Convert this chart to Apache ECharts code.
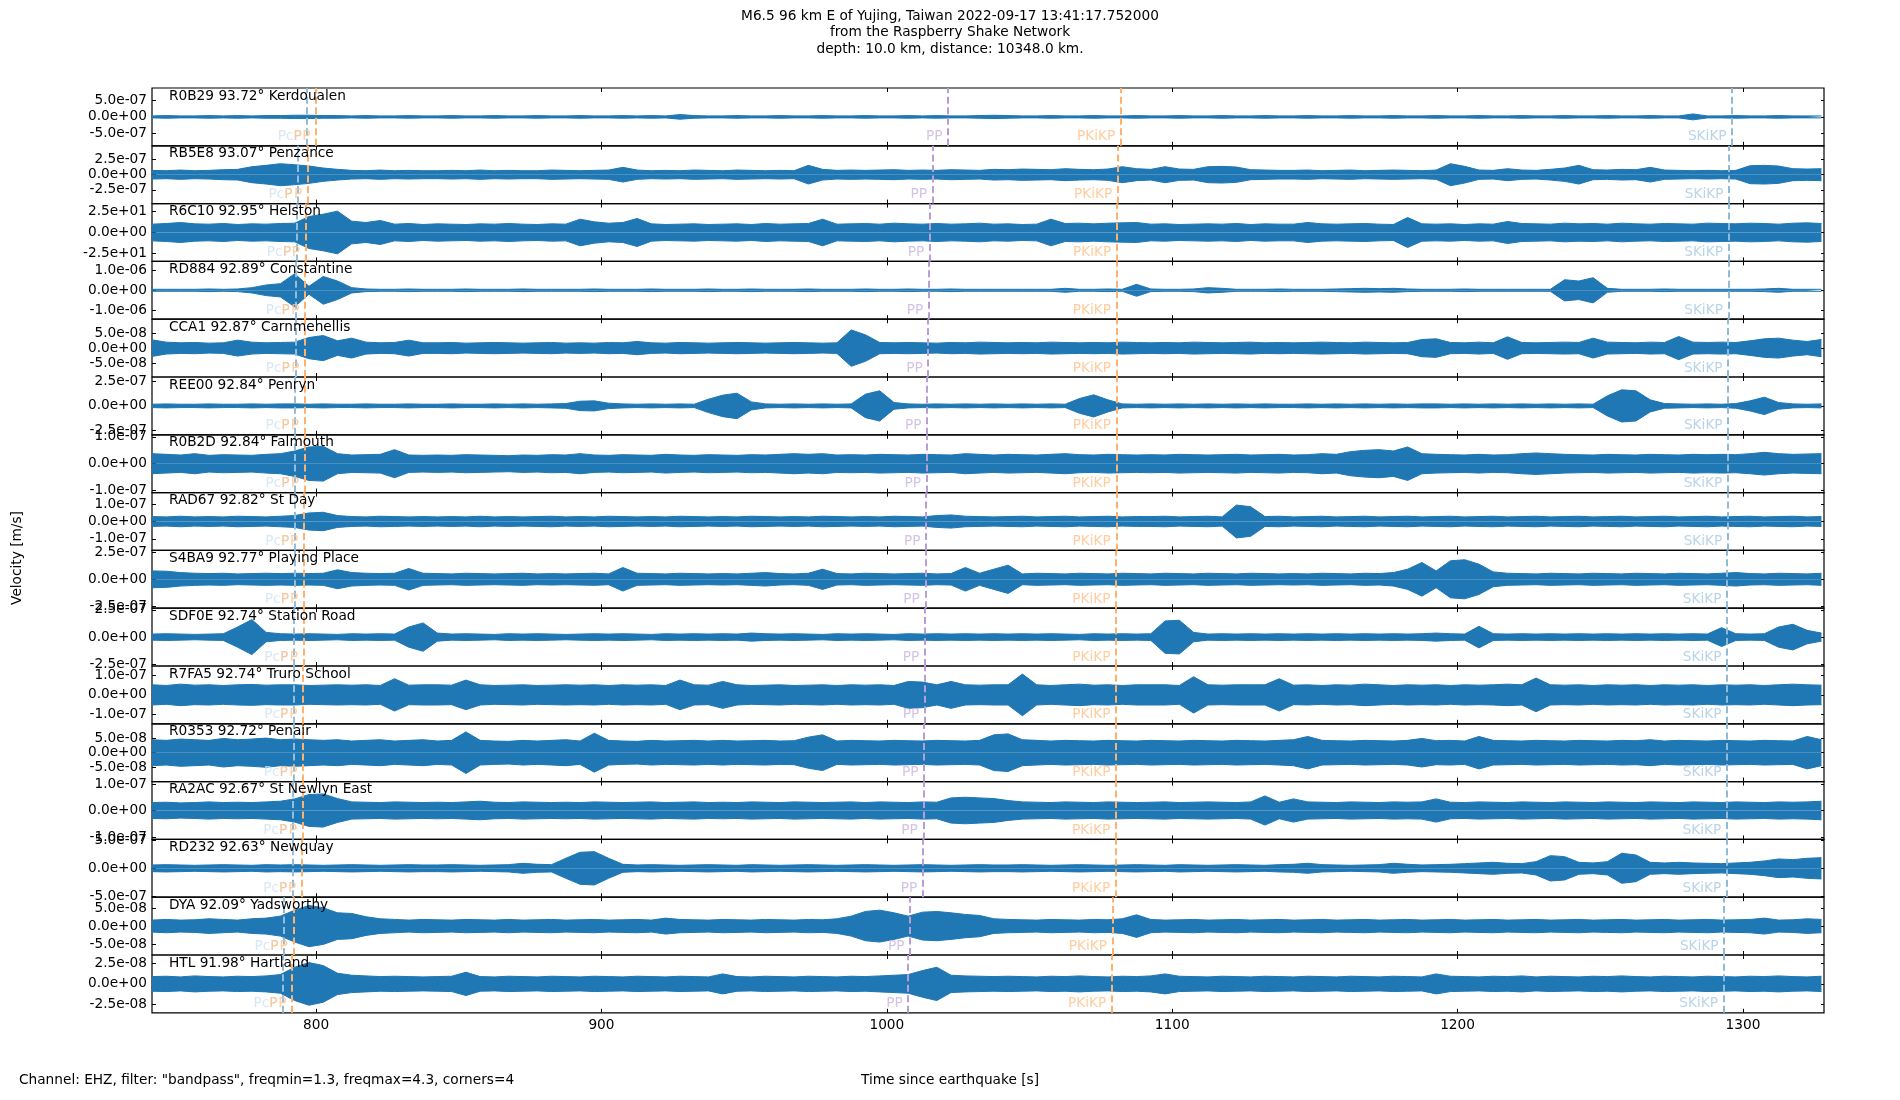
<!DOCTYPE html>
<html>
<head>
<meta charset="utf-8">
<title>M6.5 96 km E of Yujing, Taiwan - Raspberry Shake section</title>
<script src="https://cdn.jsdelivr.net/npm/echarts@6/dist/echarts.min.js"></script>
<style>
html, body { margin: 0; padding: 0; background: #fff; }
#chart { width: 1900px; height: 1100px; }
</style>
</head>
<body>
<div id="chart"></div>
<script>
// ---- data ----
const stations = ["R0B29", "RB5E8", "R6C10", "RD884", "CCA1", "REE00", "R0B2D", "RAD67",
    "S4BA9", "SDF0E", "R7FA5", "R0353", "RA2AC", "RD232", "DYA", "HTL"];
const places = ["Kerdoualen", "Penzance", "Helston", "Constantine", "Carnmenellis", "Penryn", "Falmouth", "St Day",
    "Playing Place", "Station Road", "Truro School", "Penair", "St Newlyn East", "Newquay", "Yadsworthy", "Hartland"];
const distances = ["93.72", "93.07", "92.95", "92.89", "92.87", "92.84", "92.84", "92.82",
    "92.77", "92.74", "92.74", "92.72", "92.67", "92.63", "92.09", "91.98"];

// y range (+/-) and labelled tick of each trace
const yLimits = [8.75e-7, 4.77e-7, 34.7, 1.44e-6, 9.6e-8, 2.93e-7, 1.08e-7, 1.67e-7,
    2.66e-7, 2.66e-7, 1.46e-7, 9.8e-8, 1.09e-7, 5.2e-7, 8.0e-8, 3.47e-8];
const yTicks = [5e-7, 2.5e-7, 25, 1e-6, 5e-8, 2.5e-7, 1e-7, 1e-7,
    2.5e-7, 2.5e-7, 1e-7, 5e-8, 1e-7, 5e-7, 5e-8, 2.5e-8];

// envelope amplitude in units of ampScale, one value every 5 s from 742.5 s
const ampScale = [1.0e-8, 5.5e-9, 0.4, 1.65e-8, 1.1e-9, 3.4e-9, 1.25e-9, 1.9e-9,
    3.1e-9, 3.1e-9, 1.7e-9, 1.1e-9, 1.25e-9, 6.0e-9, 9.2e-10, 4.0e-10];
const sampleStart = 742.5;
const sampleStep = 5;

const ampR0B29 = [3,4,3,3,4,3,4,3,4,4, 5,5,4,4,3,4,3,3,4,3, 3,4,3,3,4,3,3,4,3,3, 4,3,3,4,3,4,3,7,4,3,
    3,4,3,3,4,3,3,4,3,3, 4,3,3,4,3,4,3,3,4,5, 4,3,3,4,3,3,4,3,3,4, 3,3,4,3,3,4,3,3,4,3,
    3,4,3,3,4,3,3,4,3,3, 4,3,3,4,3,3,4,3,3,4, 3,3,4,3,3,4,3,3,9,3, 3,4,3,3,4,3,3,3];
const ampRB5E8 = [13,12,14,12,13,15,16,24,28,33, 30,26,20,16,13,12,14,12,13,12, 12,13,12,14,12,13,12,12,14,13, 12,13,14,22,14,12,13,12,14,13,
    12,14,13,12,13,12,28,16,13,14, 13,14,15,13,14,13,15,14,13,16, 15,17,16,15,18,16,15,17,24,18, 16,24,17,16,24,25,23,15,14,13,
    13,14,12,13,14,12,13,14,13,12, 14,33,25,14,13,18,14,13,16,20, 28,15,14,16,15,22,14,13,12,13, 12,13,27,28,26,18,17,18];
const ampR6C10 = [25,27,30,26,25,27,24,26,25,27, 28,48,55,64,34,30,36,25,27,24, 26,25,24,26,25,27,25,24,26,25, 40,32,28,30,42,26,24,25,26,24,
    25,26,24,27,25,26,27,40,25,26, 27,25,28,26,25,27,25,26,28,25, 26,24,25,40,27,28,26,28,29,30, 25,26,24,25,26,25,27,24,26,25,
    25,30,26,25,26,27,25,24,45,26, 25,26,24,26,25,33,27,26,25,28, 26,27,25,28,26,25,27,26,25,28, 27,26,28,27,25,28,29,27];
const ampRD884 = [3,3,3,3,4,3,4,8,16,20, 50,12,42,28,8,4,3,3,4,3, 3,3,4,3,3,3,4,3,3,3, 3,4,3,3,3,4,3,3,3,4,
    3,3,4,3,3,3,4,3,3,3, 4,3,3,4,3,3,4,3,3,3, 3,3,3,3,6,3,3,4,3,18, 4,3,3,4,8,6,3,3,3,4,
    3,3,3,4,5,6,5,6,4,3, 3,3,4,3,3,3,3,3,3,32, 28,38,6,3,3,3,4,3,3,3, 3,3,3,4,6,3,3,3];
const ampCCA1 = [25,18,16,17,15,16,24,18,16,17, 18,32,38,22,30,18,16,17,24,16, 16,17,15,16,17,16,15,16,17,15, 16,15,17,16,20,16,15,17,16,15,
    16,17,16,15,16,17,16,15,16,55, 40,17,16,17,16,15,17,16,18,17, 16,17,16,18,17,16,17,16,18,17, 16,17,16,18,17,16,17,18,16,17,
    16,17,18,17,16,18,17,16,17,26, 28,17,16,18,16,34,17,16,17,18, 17,30,18,17,16,18,17,35,18,17, 18,17,22,28,30,24,20,26];
const ampREE00 = [5,6,5,5,6,5,5,6,5,6, 6,5,6,5,5,6,5,5,6,5, 5,6,5,5,6,5,6,5,6,7, 14,15,8,6,5,6,5,6,5,20,
    32,38,12,6,5,6,5,6,5,6, 35,45,10,6,5,6,5,6,5,6, 5,6,5,6,5,22,33,18,6,5, 6,5,6,5,6,5,6,5,6,5,
    5,6,5,6,5,6,5,6,5,6, 6,5,6,5,6,5,6,5,6,5, 6,5,30,48,45,18,7,6,5,6, 5,7,15,26,10,6,5,6];
const ampR0B2D = [30,28,26,30,25,27,26,25,28,30, 38,50,52,30,26,27,28,42,26,25, 26,25,27,26,25,24,26,25,27,26, 30,26,25,27,26,25,28,26,25,27,
    26,25,27,26,28,30,28,30,26,27, 26,28,27,26,28,27,26,30,28,26, 28,27,26,28,30,27,26,28,27,26, 27,26,28,27,26,27,28,26,27,28,
    26,27,30,28,36,40,42,38,50,30, 28,27,26,28,26,27,30,32,30,28, 27,26,28,27,26,28,27,26,28,27, 28,27,30,34,30,28,29,30];
const ampRAD67 = [15,14,16,14,15,14,16,15,14,16, 18,26,28,18,15,14,16,15,14,15, 14,15,14,16,14,15,14,15,16,14, 15,14,16,15,14,15,14,16,15,14,
    15,14,16,15,14,15,14,16,15,14, 15,14,16,15,14,18,20,16,15,14, 15,16,14,15,16,14,15,16,14,15, 15,16,14,15,16,14,50,45,15,16,
    14,15,16,14,15,16,14,15,16,14, 15,16,14,15,16,14,15,16,14,15, 16,14,15,16,14,15,16,14,15,16, 14,15,16,14,15,16,14,15];
const ampS4BA9 = [25,24,20,18,17,18,16,17,18,17, 18,17,18,28,20,18,17,18,32,18, 17,16,18,17,16,17,18,16,17,16, 17,18,16,35,18,17,16,18,17,16,
    17,16,18,20,17,16,18,30,17,16, 18,17,16,17,18,16,17,35,18,30, 42,16,18,17,16,18,17,16,18,17, 16,18,17,16,18,17,16,18,17,16,
    17,16,18,17,16,18,17,20,30,50, 25,55,58,45,22,18,17,16,18,17, 16,18,17,16,18,17,16,18,17,16, 18,20,17,16,18,17,16,18];
const ampSDF0E = [9,10,9,8,9,10,30,52,14,10, 9,10,9,8,10,9,10,9,30,42, 12,9,10,9,8,10,9,10,9,8, 9,10,9,10,9,8,10,9,10,9,
    10,9,12,10,9,10,9,8,10,9, 10,9,8,10,9,10,9,10,9,10, 9,10,9,10,9,8,10,9,10,9, 10,48,50,14,9,10,9,10,9,10,
    9,10,9,10,9,10,9,10,9,10, 12,10,9,32,10,9,10,9,10,9, 10,9,10,9,10,9,10,9,10,9, 28,10,9,10,30,38,20,12];
const ampR7FA5 = [30,28,32,29,30,28,30,31,29,30, 30,28,29,30,29,30,28,48,29,30, 30,29,44,30,28,29,30,28,29,30, 29,30,28,30,29,30,28,44,30,29,
    40,30,28,29,30,28,29,30,28,30, 29,30,28,40,38,30,40,30,29,30, 30,62,30,28,30,32,29,30,28,30, 30,30,28,54,30,29,30,30,30,48,
    29,30,28,30,29,32,30,28,30,29, 30,28,30,29,30,32,30,50,30,29, 30,28,30,29,30,28,30,29,30,28, 30,29,30,28,30,32,30,29];
const ampR0353 = [40,38,42,40,38,44,40,42,45,40, 42,40,38,40,36,38,40,36,38,40, 36,38,64,38,36,35,38,36,38,40, 36,60,38,36,35,38,36,37,38,36,
    38,36,37,38,36,37,48,55,36,38, 37,36,38,37,36,38,37,36,38,55, 58,40,38,36,38,37,36,38,37,36, 38,37,36,38,37,36,38,37,36,38,
    40,50,38,37,36,38,37,36,38,44, 37,38,36,50,38,37,36,38,37,36, 38,37,36,38,37,40,36,38,37,36, 38,37,36,38,37,36,50,40];
const ampRA2AC = [24,25,23,24,26,24,25,24,26,28, 35,48,50,36,26,25,24,26,25,24, 25,24,26,28,25,24,26,25,24,25, 24,26,25,24,25,26,24,25,26,24,
    25,24,26,25,24,26,25,24,25,26, 24,26,25,24,26,25,38,40,38,36, 30,26,25,24,26,25,24,26,25,24, 25,26,24,25,26,25,24,26,44,25,
    35,26,25,24,26,25,24,26,25,26, 35,25,24,26,25,24,26,25,24,26, 25,24,26,25,24,26,25,24,26,25, 24,26,25,24,26,25,26,28];
const ampRD232 = [10,11,10,9,10,11,10,9,11,10, 11,10,9,10,11,10,9,10,11,10, 10,11,10,9,10,11,15,12,11,30, 48,50,30,12,10,11,10,9,10,11,
    10,9,11,10,9,10,11,10,9,10, 11,10,9,10,11,10,9,10,11,10, 10,11,10,9,10,11,10,9,10,11, 10,9,11,10,9,10,11,10,9,11,
    12,15,11,10,9,10,11,15,12,10, 11,12,14,16,18,15,14,20,38,35, 18,16,20,45,40,18,16,18,16,15, 14,16,18,22,28,26,30,32];
const ampDYA = [18,20,18,19,22,20,18,22,24,30, 48,62,55,40,38,28,22,20,18,20, 19,18,20,19,18,20,18,19,20,18, 19,20,18,19,20,18,24,20,19,18,
    20,19,18,20,19,18,20,19,22,30, 44,48,40,30,42,44,40,35,32,22, 20,19,18,20,19,18,20,19,22,34, 20,18,19,20,18,19,20,18,19,20,
    18,19,20,18,19,20,18,19,20,18, 19,20,18,19,20,18,19,20,18,19, 20,18,19,20,18,19,20,18,19,20, 18,19,20,24,18,19,22,20];
const ampHTL = [22,23,21,24,22,21,23,22,24,28, 50,64,55,32,26,24,22,23,22,21, 22,23,35,22,21,23,22,21,23,22, 21,23,22,21,23,22,21,23,22,21,
    30,22,21,23,22,21,23,22,21,23, 22,24,26,28,40,50,26,24,23,22, 23,22,21,23,22,24,22,21,23,22, 24,30,23,22,21,23,22,21,23,22,
    21,23,22,21,23,22,21,23,22,21, 30,23,22,21,23,22,24,21,23,22, 21,23,22,24,22,21,23,22,21,23, 22,21,23,22,24,22,21,23];

const envelopes = [ampR0B29, ampRB5E8, ampR6C10, ampRD884, ampCCA1, ampREE00, ampR0B2D, ampRAD67,
    ampS4BA9, ampSDF0E, ampR7FA5, ampR0353, ampRA2AC, ampRD232, ampDYA, ampHTL];

// phase arrival times per trace [s]
const arrPcP = [796.9, 793.7, 793.1, 792.7, 792.7, 792.6, 792.6, 792.5, 792.4, 792.2, 792.2, 792.0, 791.8, 791.8, 788.8, 788.4];
const arrP = [796.9, 793.7, 793.1, 792.7, 792.7, 792.6, 792.6, 792.5, 792.4, 792.2, 792.2, 792.0, 791.8, 791.8, 788.8, 788.4];
const arrP2 = [800.0, 797.1, 796.3, 796.1, 796.1, 795.9, 795.9, 795.7, 795.7, 795.6, 795.4, 795.4, 795.2, 795.0, 792.0, 791.6];
const arrPP = [1021.4, 1016.0, 1015.0, 1014.7, 1014.5, 1014.1, 1013.9, 1013.7, 1013.5, 1013.3, 1013.3, 1013.0, 1012.8, 1012.6, 1008.1, 1007.5];
const arrPKiKP = [1082.0, 1080.9, 1080.6, 1080.5, 1080.5, 1080.5, 1080.4, 1080.4, 1080.3, 1080.3, 1080.3, 1080.3, 1080.2, 1080.2, 1079.1, 1078.8];
const arrSKiKP = [1296.2, 1295.1, 1294.9, 1294.9, 1294.8, 1294.8, 1294.7, 1294.7, 1294.4, 1294.4, 1294.4, 1294.4, 1294.3, 1294.3, 1293.4, 1293.2];
const phaseNames = ["PcP", "P", "P", "PP", "PKiKP", "SKiKP"];
const phaseArrivals = [arrPcP, arrP, arrP2, arrPP, arrPKiKP, arrSKiKP];

const timeTicks = [800, 900, 1000, 1100, 1200, 1300];
const timeMin = 742.5;
const timeMax = 1328.4;

// ---- styles / layout ----
const WAVE = "#1f77b4";
const FONT = "DejaVu Sans";
const FS = 13.7;
const phaseColors = [
    { line: "#93bddb", text: "#cfe2f0" },
    { line: null, text: "#ffbf86" },
    { line: "#ffb26e", text: "#ffbf86" },
    { line: "#b89dd6", text: "#c9b4de" },
    { line: "#ffb26e", text: "#ffbf86" },
    { line: "#8fbbd9", text: "#a8c9e2" }
];
const PLOT_LEFT = 152;
const PLOT_RIGHT = 1824;
const PLOT_TOP = 88;
const PANEL_H = 57.8;
const LABEL_GAP = 9; // phase label centre above panel bottom

function sciLabel (v) {
    if (Math.abs(v) < 1e-30) return "0.0e+00";
    const parts = v.toExponential(1).split("e");
    const sign = parts[1][0] === "-" ? "-" : "+";
    const digits = parts[1].replace(/^[+-]/, "").padStart(2, "0");
    return parts[0] + "e" + sign + digits;
}

const grids = [];
const xAxes = [];
const yAxes = [];
const series = [];
const titles = [{
    text: "M6.5 96 km E of Yujing, Taiwan 2022-09-17 13:41:17.752000\nfrom the Raspberry Shake Network\ndepth: 10.0 km, distance: 10348.0 km.",
    left: 950,
    top: 8,
    textAlign: "center",
    padding: 0,
    textStyle: { fontFamily: FONT, fontSize: FS, fontWeight: "normal", color: "#000", lineHeight: 16.5, align: "center" }
}];

stations.forEach(function (sta, i) {
    const top = PLOT_TOP + i * PANEL_H;
    const lim = yLimits[i];
    const tk = yTicks[i];
    grids.push({
        left: PLOT_LEFT, width: PLOT_RIGHT - PLOT_LEFT, top: top, height: PANEL_H,
        show: true, borderColor: "#000", borderWidth: 1.2, backgroundColor: "transparent"
    });
    const tickStyle = { show: true, inside: true, length: 4, lineStyle: { color: "#000", width: 1 }, customValues: timeTicks };
    xAxes.push({
        gridIndex: i, type: "value", position: "bottom", min: timeMin, max: timeMax,
        axisLine: { show: false, onZero: false }, splitLine: { show: false }, axisTick: tickStyle,
        axisLabel: {
            show: i === stations.length - 1, customValues: timeTicks, margin: 6,
            formatter: v => String(v),
            fontFamily: FONT, fontSize: FS, color: "#000"
        }
    });
    xAxes.push({
        gridIndex: i, type: "value", position: "top", min: timeMin, max: timeMax,
        axisLine: { show: false, onZero: false }, splitLine: { show: false }, axisTick: tickStyle,
        axisLabel: { show: false }
    });
    const yVals = [-tk, 0, tk];
    yAxes.push({
        gridIndex: i, type: "value", position: "left", min: -lim, max: lim,
        axisLine: { show: false, onZero: false }, splitLine: { show: false },
        axisTick: { show: true, inside: true, length: 4, lineStyle: { color: "#000" }, customValues: yVals },
        axisLabel: {
            customValues: yVals, margin: 5, formatter: sciLabel,
            fontFamily: FONT, fontSize: FS, color: "#000"
        }
    });
    yAxes.push({
        gridIndex: i, type: "value", position: "right", min: -lim, max: lim,
        axisLine: { show: false, onZero: false }, splitLine: { show: false },
        axisTick: { show: true, inside: true, length: 3, lineStyle: { color: "#000" }, customValues: yVals },
        axisLabel: { show: false }
    });

    titles.push({
        text: sta + " " + distances[i] + "° " + places[i],
        left: 169, top: top + 1, padding: 0,
        textStyle: { fontFamily: FONT, fontSize: FS, fontWeight: "normal", color: "#000" }
    });

    const env = envelopes[i];
    const upper = env.map((a, k) => [sampleStart + k * sampleStep, a * ampScale[i]]);
    const lower = env.map((a, k) => [sampleStart + k * sampleStep, -a * ampScale[i]]);

    const lines = [];
    const labels = [];
    phaseNames.forEach(function (ph, p) {
        const t = phaseArrivals[p][i];
        if (phaseColors[p].line) {
            lines.push({
                xAxis: t,
                lineStyle: { color: phaseColors[p].line, type: [7, 3.5], width: 2 }
            });
        }
        labels.push({
            name: ph,
            value: [t, -lim + 2 * lim * LABEL_GAP / PANEL_H],
            label: { color: phaseColors[p].text }
        });
    });

    const waveBase = {
        type: "line", xAxisIndex: 2 * i, yAxisIndex: 2 * i,
        showSymbol: false, symbol: "none", silent: true, animation: false,
        lineStyle: { color: WAVE, width: 1 },
        areaStyle: { color: WAVE, opacity: 1 },
        z: 2
    };
    series.push(Object.assign({}, waveBase, { name: sta + "+", data: upper }));
    series.push(Object.assign({}, waveBase, {
        name: sta + "-", data: lower,
        markLine: {
            silent: true, symbol: ["none", "none"], animation: false,
            label: { show: false }, data: lines, z: 3
        }
    }));
    series.push({
        type: "scatter", xAxisIndex: 2 * i, yAxisIndex: 2 * i,
        symbolSize: 1, itemStyle: { color: "transparent" }, silent: true, animation: false, z: 4,
        label: {
            show: true, position: "left", distance: 5, formatter: p => p.name,
            fontFamily: FONT, fontSize: FS
        },
        data: labels
    });
});

titles.push({
    text: "Channel: EHZ, filter: \"bandpass\", freqmin=1.3, freqmax=4.3, corners=4",
    left: 19, top: 1073, padding: 0,
    textStyle: { fontFamily: FONT, fontSize: FS, fontWeight: "normal", color: "#000" }
});
titles.push({
    text: "Time since earthquake [s]",
    left: 950, top: 1073, padding: 0, textAlign: "center",
    textStyle: { fontFamily: FONT, fontSize: FS, fontWeight: "normal", color: "#000" }
});

const chart = echarts.init(document.getElementById("chart"), null, { renderer: "canvas" });
chart.setOption({
    animation: false,
    backgroundColor: "#fff",
    textStyle: { fontFamily: FONT },
    title: titles,
    grid: grids,
    xAxis: xAxes,
    yAxis: yAxes,
    series: series,
    graphic: [{
        type: "text", x: 17, y: 558, rotation: Math.PI / 2,
        style: {
            text: "Velocity [m/s]", fill: "#000", fontFamily: FONT, fontSize: FS,
            align: "center", verticalAlign: "middle"
        }
    }]
});
</script>
</body>
</html>
